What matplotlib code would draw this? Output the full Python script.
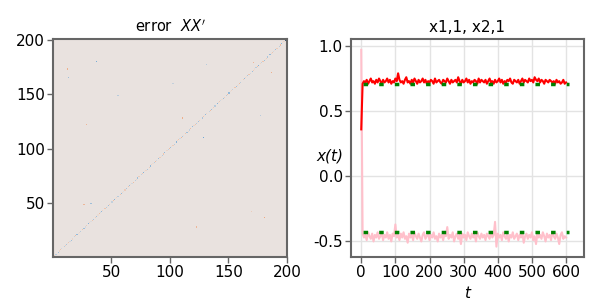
import numpy as np
import matplotlib
matplotlib.use("Agg")
import matplotlib.pyplot as plt
from matplotlib.colors import LinearSegmentedColormap

plt.rcParams['axes.unicode_minus'] = False
plt.rcParams['font.family'] = ['DejaVu Sans']

# ---------------- data ----------------
n = 200

# diagonal of the error matrix (cell k,k)
diag_vals = [
    0.45, 0.10, -0.20, 0.00, -0.30, 0.10, 0.20, -0.10, 0.00, -0.20, 0.15, -0.25, 0.05, 0.20, -0.10, -0.30, 0.10, 0.00, -0.15, 0.25,
    -0.35, 0.05, 0.10, -0.20, 0.00, 0.20, -0.30, -0.10, 0.15, 0.00, -0.40, 0.10, -0.05, 0.20, -0.25, 0.00, 0.15, -0.30, 0.05, 0.25,
    -0.10, -0.35, 0.10, 0.00, 0.20, -0.20, 0.05, -0.30, 0.15, 0.00, -0.15, 0.25, -0.40, 0.05, 0.10, -0.20, 0.00, 0.20, -0.35, 0.10,
    -0.05, 0.15, -0.25, 0.00, 0.20, -0.30, 0.05, -0.10, 0.25, 0.00, -0.20, 0.10, -0.30, 0.15, 0.00, -0.15, 0.20, -0.40, 0.05, 0.10,
    -0.25, 0.00, 0.15, -0.35, 0.10, 0.05, -0.20, 0.25, -0.10, 0.00, -0.30, 0.15, 0.05, -0.20, 0.20, -0.35, 0.00, 0.10, -0.15, 0.25,
    -0.30, 0.05, 0.15, -0.20, 0.00, -0.40, 0.10, 0.20, -0.10, 0.30, -0.25, 0.05, 0.00, 0.20, -0.30, 0.10, -0.15, 0.25, 0.00, -0.35,
    0.10, 0.20, -0.20, 0.05, -0.30, 0.15, 0.00, -0.25, 0.20, 0.05, -0.35, 0.10, 0.00, -0.15, 0.25, -0.30, 0.05, 0.15, -0.20, 0.00,
    -0.40, 0.10, 0.20, -0.10, 0.05, -0.30, 0.15, 0.00, -0.20, 0.25, -0.35, 0.05, 0.10, -0.15, 0.00, 0.20, -0.30, 0.10, -0.05, 0.25,
    -0.20, 0.00, 0.15, -0.35, 0.10, 0.05, -0.25, 0.20, -0.10, 0.00, -0.30, 0.15, 0.05, -0.20, 0.25, -0.40, 0.00, 0.10, -0.15, 0.20,
    -0.30, 0.05, 0.15, -0.25, 0.00, -0.35, 0.10, 0.20, -0.10, 0.05, -0.30, 0.15, 0.00, -0.20, 0.25, -0.40, 0.05, 0.10, -0.35, -1.00,
]

# scattered off-diagonal specks (column, row, value), 1-based
speck_cols = [13, 38, 29, 56, 111, 129, 172, 187, 181, 123, 33, 27, 132, 103, 14, 178, 170, 199, 200, 199]
speck_rows = [173, 180, 122, 149, 128, 110, 179, 170, 37, 28, 50, 49, 177, 160, 165, 130, 42, 200, 199, 199]
speck_vals = [0.35, -0.45, 0.3, -0.2, 0.35, -0.5, 0.3, 0.35, 0.4, 0.3, -0.3, 0.3, -0.2, -0.15, -0.3, -0.2, 0.15, -0.9, -0.9, -0.8]

# time series
t = np.arange(0, 601, 4)
x11 = [
    0.36, 0.71, 0.73, 0.72, 0.74, 0.71, 0.73, 0.75, 0.72, 0.73, 0.71, 0.74, 0.72, 0.75, 0.73, 0.71, 0.74, 0.72, 0.73, 0.75,
    0.72, 0.74, 0.71, 0.73, 0.72, 0.75, 0.73, 0.79, 0.74, 0.72, 0.73, 0.71, 0.74, 0.76, 0.72, 0.73, 0.71, 0.74, 0.72, 0.75,
    0.73, 0.71, 0.74, 0.72, 0.73, 0.75, 0.72, 0.74, 0.71, 0.73, 0.72, 0.74, 0.73, 0.71, 0.75, 0.72, 0.73, 0.74, 0.72, 0.71,
    0.74, 0.73, 0.72, 0.75, 0.73, 0.71, 0.74, 0.72, 0.73, 0.74, 0.72, 0.76, 0.73, 0.71, 0.74, 0.72, 0.73, 0.75, 0.72, 0.74,
    0.71, 0.73, 0.72, 0.74, 0.73, 0.71, 0.75, 0.72, 0.74, 0.73, 0.72, 0.74, 0.71, 0.73, 0.75, 0.72, 0.73, 0.71, 0.74, 0.72,
    0.73, 0.75, 0.72, 0.74, 0.71, 0.73, 0.72, 0.74, 0.73, 0.75, 0.72, 0.71, 0.74, 0.73, 0.72, 0.74, 0.71, 0.73, 0.75, 0.72,
    0.74, 0.73, 0.72, 0.75, 0.73, 0.74, 0.72, 0.76, 0.74, 0.73, 0.75, 0.72, 0.74, 0.73, 0.71, 0.74, 0.73, 0.72, 0.74, 0.73,
    0.72, 0.73, 0.71, 0.74, 0.72, 0.73, 0.71, 0.72, 0.74, 0.71, 0.72,
]
x21 = [
    0.97, -0.44, -0.47, -0.45, -0.49, -0.43, -0.46, -0.48, -0.44, -0.50, -0.45, -0.47, -0.43, -0.48, -0.46, -0.44, -0.49, -0.45, -0.47, -0.43,
    -0.48, -0.45, -0.50, -0.44, -0.46, -0.37, -0.47, -0.45, -0.49, -0.44, -0.47, -0.43, -0.48, -0.46, -0.51, -0.44, -0.47, -0.45, -0.49, -0.43,
    -0.46, -0.48, -0.44, -0.47, -0.50, -0.45, -0.43, -0.48, -0.46, -0.44, -0.49, -0.45, -0.47, -0.43, -0.48, -0.46, -0.50, -0.44, -0.47, -0.45,
    -0.49, -0.44, -0.46, -0.39, -0.48, -0.45, -0.47, -0.43, -0.50, -0.46, -0.44, -0.48, -0.45, -0.52, -0.44, -0.47, -0.45, -0.49, -0.43, -0.46,
    -0.48, -0.44, -0.47, -0.45, -0.50, -0.43, -0.46, -0.48, -0.44, -0.47, -0.45, -0.49, -0.44, -0.46, -0.48, -0.43, -0.47, -0.45, -0.35, -0.54,
    -0.44, -0.47, -0.45, -0.49, -0.43, -0.46, -0.48, -0.44, -0.50, -0.45, -0.47, -0.43, -0.48, -0.46, -0.44, -0.49, -0.45, -0.47, -0.43, -0.51,
    -0.46, -0.44, -0.48, -0.45, -0.47, -0.43, -0.49, -0.46, -0.52, -0.44, -0.47, -0.45, -0.48, -0.43, -0.46, -0.50, -0.44, -0.47, -0.45, -0.49,
    -0.43, -0.46, -0.48, -0.44, -0.47, -0.52, -0.45, -0.43, -0.48, -0.46, -0.47,
]
x11_true = 0.71
x21_true = -0.43

# ---------------- build matrix ----------------
err = np.zeros((n, n))
err[np.arange(n), np.arange(n)] = diag_vals
for c, r, v in zip(speck_cols, speck_rows, speck_vals):
    err[r - 1, c - 1] = v

cmap = LinearSegmentedColormap.from_list(
    'err', ['#1e2535', '#6fa8d6', '#e9e3e0', '#f09a6a', '#8e1b1b'])

spine_col = '#666666'

fig = plt.figure(figsize=(6, 3), dpi=100)

ax1 = fig.add_axes([0.089, 0.144, 0.39, 0.725])
ax1.imshow(err, cmap=cmap, vmin=-1, vmax=1, origin='lower', aspect='auto',
           extent=(0.5, n + 0.5, 0.5, n + 0.5), interpolation='nearest')
ax1.set_xticks([50, 100, 150, 200])
ax1.set_yticks([50, 100, 150, 200])
ax1.set_title(r"error  $\mathit{XX'}$", fontsize=10.5, pad=5)

ax2 = fig.add_axes([0.585, 0.144, 0.388, 0.725])
ax2.grid(True, color='#e3e3e3', linewidth=1)
ax2.set_axisbelow(True)
ax2.plot(t, x21, color='pink', linewidth=1.5)
ax2.plot(t, x11, color='red', linewidth=1.5)
dash_style = (3.9, (1.3, 3.2))
ax2.plot([0, 610], [x11_true, x11_true], color='green', linewidth=2.5, linestyle=dash_style, dash_capstyle='butt')
ax2.plot([0, 610], [x21_true, x21_true], color='green', linewidth=2.5, linestyle=dash_style, dash_capstyle='butt')
ax2.set_xlim(-30, 652)
ax2.set_ylim(-0.618, 1.051)
ax2.set_xticks([0, 100, 200, 300, 400, 500, 600])
ax2.set_yticks([-0.5, 0.0, 0.5, 1.0])
ax2.set_title("x1,1, x2,1", fontsize=11, pad=5)
ax2.set_xlabel("t", fontstyle='italic', fontsize=11, labelpad=0)
ax2.xaxis.set_label_coords(0.5, -0.135)
ax2.set_ylabel("x(t)", fontstyle='italic', fontsize=11, rotation=0)
ax2.yaxis.set_label_coords(-0.09, 0.43)

for ax in (ax1, ax2):
    for s in ax.spines.values():
        s.set_color(spine_col)
        s.set_linewidth(1.5)
    ax.tick_params(labelsize=11, length=4, width=1, color=spine_col, pad=2)

fig.savefig('out.png', dpi=100)
